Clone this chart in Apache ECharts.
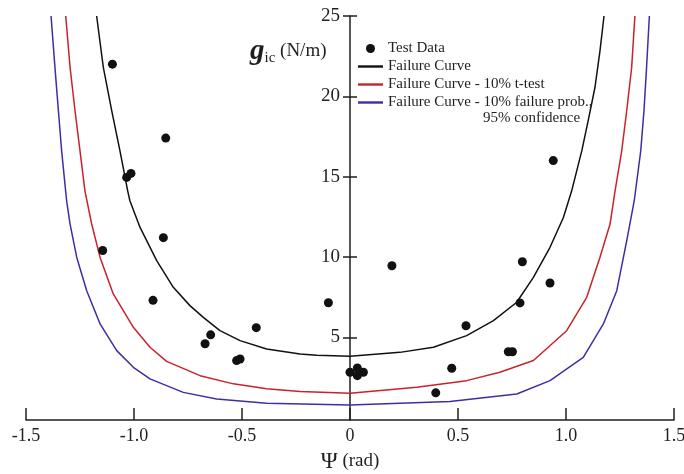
<!DOCTYPE html>
<html>
<head>
<meta charset="utf-8">
<script src="https://cdn.jsdelivr.net/npm/echarts@6/dist/echarts.min.js"></script>
<style>
  html, body { margin: 0; padding: 0; background: #fff; }
  #chart { width: 684px; height: 474px; }
</style>
</head>
<body>
<div id="chart"></div>
<script>
// Mixed-mode fracture energy vs. phase angle: test points and failure envelopes
const psiTicks = [-1.5, -1.0, -0.5, 0, 0.5, 1.0, 1.5];
const gTicks = [5, 10, 15, 20, 25];

// Measured points [psi (rad), G_ic (N/m)]
const testData = [
  [-1.100, 22.0], [-0.853, 17.4], [-1.014, 15.2], [-1.034, 14.95],
  [-1.145, 10.4], [-0.864, 11.2], [-0.912, 7.3], [-0.645, 5.15],
  [-0.671, 4.6], [-0.525, 3.55], [-0.509, 3.65], [-0.434, 5.6],
  [-0.100, 7.15], [0.194, 9.45], [0.000, 2.82], [0.034, 3.09],
  [0.034, 2.61], [0.062, 2.82], [0.397, 1.54], [0.471, 3.07],
  [0.537, 5.72], [0.733, 4.1], [0.752, 4.1], [0.787, 7.14],
  [0.798, 9.7], [0.926, 8.38], [0.941, 16.0]
];

// Failure curve
const failureCurve = [
  [-1.173, 25], [-1.142, 21.8], [-1.103, 19.1], [-1.065, 16.6],
  [-1.029, 14.1], [-1.019, 13.5], [-0.972, 11.84], [-0.895, 9.77],
  [-0.818, 8.11], [-0.741, 6.97], [-0.679, 6.24], [-0.602, 5.41],
  [-0.509, 4.79], [-0.386, 4.27], [-0.231, 3.96], [-0.154, 3.88],
  [0, 3.82], [0.231, 4.06], [0.386, 4.38], [0.540, 5.1],
  [0.664, 6.04], [0.772, 7.18], [0.849, 8.73], [0.926, 10.6],
  [0.988, 12.46], [1.026, 14.1], [1.073, 16.6], [1.103, 18.5],
  [1.134, 20.55], [1.157, 22.8], [1.176, 25]
];

// Failure curve reduced by the 10% t-test
const tTestCurve = [
  [-1.316, 25], [-1.296, 21.8], [-1.273, 19.1], [-1.250, 16.6],
  [-1.227, 14.1], [-1.196, 12.05], [-1.157, 9.97], [-1.096, 7.7],
  [-1.003, 5.62], [-0.926, 4.38], [-0.849, 3.5], [-0.694, 2.61],
  [-0.540, 2.1], [-0.386, 1.79], [-0.231, 1.62], [0, 1.51],
  [0.309, 1.89], [0.540, 2.3], [0.694, 2.82], [0.849, 3.55],
  [1.003, 5.41], [1.096, 7.49], [1.157, 9.97], [1.204, 12.05],
  [1.227, 14.1], [1.258, 16.6], [1.281, 19.1], [1.304, 21.8],
  [1.319, 25]
];

// Failure curve at 10% failure probability, 95% confidence
const probCurve = [
  [-1.384, 25], [-1.366, 21.8], [-1.350, 19.1], [-1.335, 16.6],
  [-1.312, 13.5], [-1.296, 12.05], [-1.265, 9.97], [-1.219, 7.9],
  [-1.157, 5.83], [-1.080, 4.17], [-1.003, 3.13], [-0.926, 2.41],
  [-0.772, 1.57], [-0.617, 1.16], [-0.386, 0.89], [0, 0.79],
  [0.463, 1.0], [0.772, 1.47], [0.926, 2.3], [1.080, 3.75],
  [1.173, 5.83], [1.235, 7.9], [1.281, 11.0], [1.316, 13.5],
  [1.346, 16.6], [1.361, 19.1], [1.373, 21.8], [1.386, 25]
];

const seriesNames = [
  'Test Data',
  'Failure Curve',
  'Failure Curve - 10% t-test',
  'Failure Curve - 10% failure prob.,'
];

const serif = '"Liberation Serif", "Times New Roman", serif';
const ink = '#1f1f1f';
// thin bar used as the legend swatch for the curves
const lineSwatch = 'path://M0,0H25V2.4H0Z';

// plot frame
const gridLeft = 26, gridRight = 10, chartWidth = 684;
// the G axis sits at psi = 0, i.e. the middle of the plot width
const centreOffset = -(chartWidth - gridLeft - gridRight) / 2;

const chart = echarts.init(document.getElementById('chart'), null, { renderer: 'canvas' });

chart.setOption({
  animation: false,
  backgroundColor: '#ffffff',
  textStyle: { fontFamily: serif, color: ink },
  title: [
    {
      left: 250, top: 37, padding: 0,
      text: '{g|g}{s|ic}{u| (N/m)}',
      textStyle: {
        fontWeight: 'normal',
        rich: {
          g: { fontFamily: serif, fontStyle: 'italic', fontWeight: 'bold', fontSize: 29, color: ink },
          s: { fontFamily: serif, fontWeight: 'normal', fontSize: 15, color: ink, verticalAlign: 'bottom', padding: [10, 0, 0, 0] },
          u: { fontFamily: serif, fontWeight: 'normal', fontSize: 19, color: ink }
        }
      }
    },
    {
      left: 483, top: 111, padding: 0,
      text: '95% confidence',
      textStyle: { fontFamily: serif, fontSize: 15, fontWeight: 'normal', color: ink }
    }
  ],
  legend: {
    orient: 'vertical',
    left: 358, top: 41, padding: 0,
    itemWidth: 25, itemHeight: 9, itemGap: 3,
    textStyle: { fontFamily: serif, fontSize: 15, color: ink },
    data: [
      { name: seriesNames[0], icon: 'circle' },
      { name: seriesNames[1], icon: lineSwatch },
      { name: seriesNames[2], icon: lineSwatch },
      { name: seriesNames[3], icon: lineSwatch }
    ]
  },
  grid: {
    left: gridLeft, right: gridRight, top: 16, bottom: 54,
    containLabel: false, outerBoundsMode: 'none'
  },
  xAxis: {
    type: 'value',
    min: psiTicks[0], max: psiTicks[psiTicks.length - 1], interval: 0.5,
    position: 'bottom',
    name: '{p|Ψ}{r| (rad)}',
    nameLocation: 'middle', nameGap: 30,
    nameTextStyle: {
      rich: {
        p: { fontFamily: serif, fontSize: 23, color: ink },
        r: { fontFamily: serif, fontSize: 19, color: ink }
      }
    },
    axisLine: { onZero: false, lineStyle: { color: ink, width: 1.5 } },
    axisTick: { inside: true, length: 12, lineStyle: { color: ink, width: 1.5 } },
    axisLabel: {
      margin: 7, fontSize: 18, fontFamily: serif, color: ink,
      formatter: v => (v === 0 ? '0' : v.toFixed(1))
    },
    splitLine: { show: false }
  },
  yAxis: [
    {
      type: 'value', min: -0.15, max: gTicks[gTicks.length - 1],
      position: 'left', offset: centreOffset,
      axisLine: { onZero: false, lineStyle: { color: ink, width: 1.5 } },
      axisTick: { customValues: gTicks, length: 7, lineStyle: { color: ink, width: 1.5 } },
      axisLabel: { customValues: gTicks, margin: 10, fontSize: 19, fontFamily: serif, color: ink },
      splitLine: { show: false }
    },
    {
      // right-hand half of the crossing tick marks
      type: 'value', min: -0.15, max: gTicks[gTicks.length - 1],
      position: 'left', offset: centreOffset,
      axisLine: { show: false, onZero: false },
      axisTick: { inside: true, customValues: gTicks, length: 7, lineStyle: { color: ink, width: 1.5 } },
      axisLabel: { show: false },
      splitLine: { show: false }
    }
  ],
  series: [
    {
      name: seriesNames[0], type: 'scatter', data: testData,
      symbol: 'circle', symbolSize: 9,
      itemStyle: { color: '#111111', opacity: 1 }, z: 5
    },
    {
      name: seriesNames[1], type: 'line', data: failureCurve,
      symbol: 'none', smooth: false,
      lineStyle: { color: '#111111', width: 1.5 }, itemStyle: { color: '#111111' }
    },
    {
      name: seriesNames[2], type: 'line', data: tTestCurve,
      symbol: 'none', smooth: false,
      lineStyle: { color: '#c8232c', width: 1.5 }, itemStyle: { color: '#c8232c' }
    },
    {
      name: seriesNames[3], type: 'line', data: probCurve,
      symbol: 'none', smooth: false,
      lineStyle: { color: '#3b2fa8', width: 1.5 }, itemStyle: { color: '#3b2fa8' }
    }
  ]
});
</script>
</body>
</html>
